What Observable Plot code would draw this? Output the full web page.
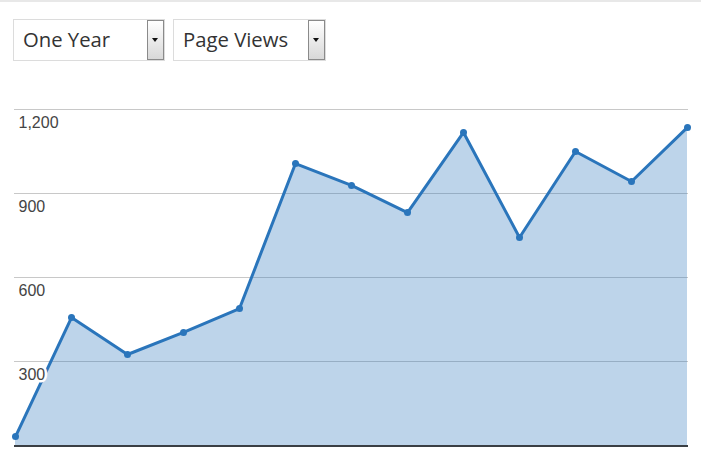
<!DOCTYPE html>
<html>
<head>
<meta charset="utf-8">
<script src="https://cdn.jsdelivr.net/npm/d3@7"></script>
<script src="https://cdn.jsdelivr.net/npm/@observablehq/plot@0.6"></script>
<style>
  html, body { margin: 0; padding: 0; background: #fff; }
  body { width: 701px; height: 461px; overflow: hidden; font-family: "Open Sans", "Segoe UI", sans-serif; }
  .topline { height: 2px; background: #e8e8e8; }
  .controls { position: relative; height: 78px; }
  .dd { position: absolute; top: 17px; height: 40px; border: 1px solid #dcdcdc; background: #fff; box-sizing: content-box; }
  .dd span { position: absolute; left: 9px; top: 5px; font-size: 20.3px; color: #333; letter-spacing: 0px; }
  .dd .btn { position: absolute; top: 0px; right: 0px; width: 15px; height: 38px; border: 1px solid #8a8a8a; background: linear-gradient(#ffffff, #d8d8d8); }
  .dd .btn::after { content: ""; position: absolute; left: 4px; top: 17px; border-left: 3.5px solid transparent; border-right: 3.5px solid transparent; border-top: 4px solid #111; }
  #chart { position: absolute; top: 80px; left: 0; }
</style>
</head>
<body>
<div class="topline"></div>
<div class="controls">
  <div class="dd" style="left:13px;width:150px;"><span>One Year</span><div class="btn"></div></div>
  <div class="dd" style="left:173px;width:151px;"><span>Page Views</span><div class="btn"></div></div>
</div>
<div id="chart"></div>
<script>
const periods = ["P1","P2","P3","P4","P5","P6","P7","P8","P9","P10","P11","P12","P13"];
const pageViews = [32, 457, 325, 404, 489, 1007, 929, 832, 1118, 743, 1050, 943, 1136];
const yTicks = [300, 600, 900, 1200];

const data = periods.map((p, i) => ({period: p, views: pageViews[i]}));
const blue = "#2a75bb";

const chart = Plot.plot({
  width: 701,
  height: 381,
  marginTop: 29,
  marginBottom: 16,
  marginLeft: 14,
  marginRight: 13,
  x: {type: "point", domain: periods, padding: 0, axis: null},
  y: {domain: [0, 1200], axis: null},
  style: {fontFamily: "'Liberation Sans', Arial, sans-serif", background: "transparent"},
  marks: [
    Plot.ruleY(yTicks, {stroke: "#c8c8c8", strokeWidth: 1.2}),
    Plot.areaY(data, {x: "period", y: "views", fill: blue, fillOpacity: 0.31}),
    Plot.ruleY([0], {stroke: "#3a3f44", strokeWidth: 2, dy: 0.5}),
    Plot.line(data, {x: "period", y: "views", stroke: blue, strokeWidth: 3}),
    Plot.dot(data, {x: "period", y: "views", fill: blue, r: 3.5}),
    Plot.text(yTicks, {y: d => d, text: d => d3.format(",")(d), frameAnchor: "left", textAnchor: "start", dx: 4, dy: 13, fill: "#444", stroke: "white", strokeWidth: 5, fontSize: 16})
  ]
});
document.getElementById("chart").appendChild(chart);
</script>
</body>
</html>
